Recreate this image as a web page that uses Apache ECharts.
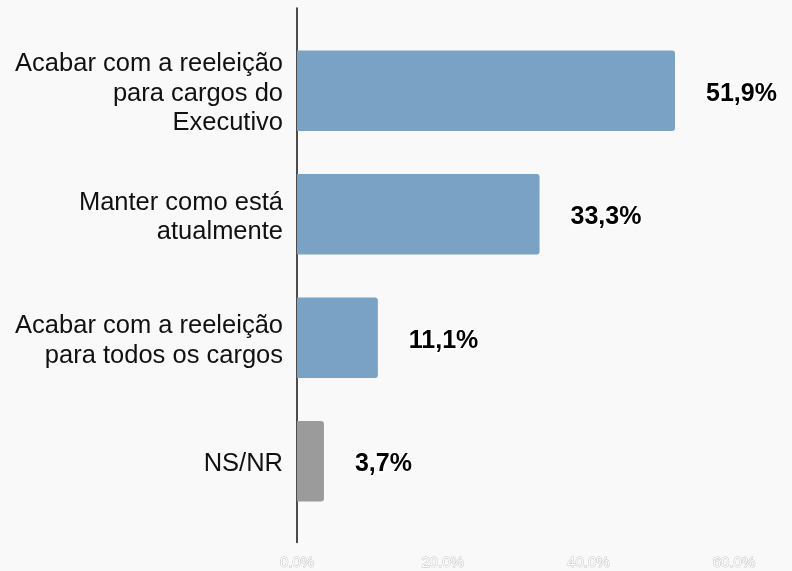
<!DOCTYPE html>
<html>
<head>
<meta charset="utf-8">
<script src="https://cdn.jsdelivr.net/npm/echarts@6/dist/echarts.min.js"></script>
<style>
  html, body { margin: 0; padding: 0; background: #f9f9f9; }
  #chart { width: 792px; height: 571px; }
</style>
</head>
<body>
<div id="chart"></div>
<script>
const categories = [
  'Acabar com a reeleição\npara cargos do\nExecutivo',
  'Manter como está\natualmente',
  'Acabar com a reeleição\npara todos os cargos',
  'NS/NR'
]
const values = [51.9, 33.3, 11.1, 3.7]
const barColors = ['#7aa2c5', '#7aa2c5', '#7aa2c5', '#9b9b9b']
const xTicks = [0, 20, 40, 60]

const myChart = echarts.init(document.getElementById('chart'))
const fmt = v => v.toFixed(1).replace('.', ',') + '%'

myChart.setOption({
  backgroundColor: '#f9f9f9',
  animation: false,
  grid: [
    { left: 297, right: 58, top: 8, bottom: 27 },
    { left: 297, right: 58, top: 29, bottom: 48 }
  ],
  xAxis: [
    {
      gridIndex: 0, type: 'value', min: xTicks[0], max: xTicks[xTicks.length - 1], interval: 20,
      axisLine: { show: false }, axisTick: { show: false }, splitLine: { show: false },
      axisLabel: {
        margin: 13, fontSize: 15, fontFamily: 'Liberation Sans',
        color: '#ffffff', textBorderColor: '#c4c4c4', textBorderWidth: 1,
        formatter: v => v.toFixed(1) + '%'
      }
    },
    {
      gridIndex: 1, type: 'value', min: 0, max: 60, show: false
    }
  ],
  yAxis: [
    {
      gridIndex: 0, type: 'category', data: [''],
      axisLine: { show: true, lineStyle: { color: '#111', width: 1.5 } },
      axisTick: { show: false }, axisLabel: { show: false }
    },
    {
      gridIndex: 1, type: 'category', data: categories, inverse: true,
      axisLine: { show: false }, axisTick: { show: false },
      axisLabel: {
        margin: 14, align: 'right', padding: [6, 0, 0, 0],
        formatter: v => v.split('\n').map(s => '{a|' + s + '}').join('\n'),
        rich: {
          a: { fontSize: 25.5, lineHeight: 29.5, color: '#111', fontFamily: 'Liberation Sans', align: 'right' }
        }
      }
    }
  ],
  series: [
    {
      type: 'bar', xAxisIndex: 1, yAxisIndex: 1,
      barWidth: '65%',
      data: values.map((v, i) => ({ value: v, itemStyle: { color: barColors[i] } })),
      itemStyle: { borderRadius: [0, 3, 3, 0] },
      label: {
        show: true, position: 'right', distance: 31, offset: [0, 3],
        fontSize: 25, fontWeight: 'bold', color: '#000',
        fontFamily: 'Liberation Sans',
        textBorderColor: '#ffffff', textBorderWidth: 3,
        formatter: p => fmt(p.value)
      }
    }
  ]
})
</script>
</body>
</html>
